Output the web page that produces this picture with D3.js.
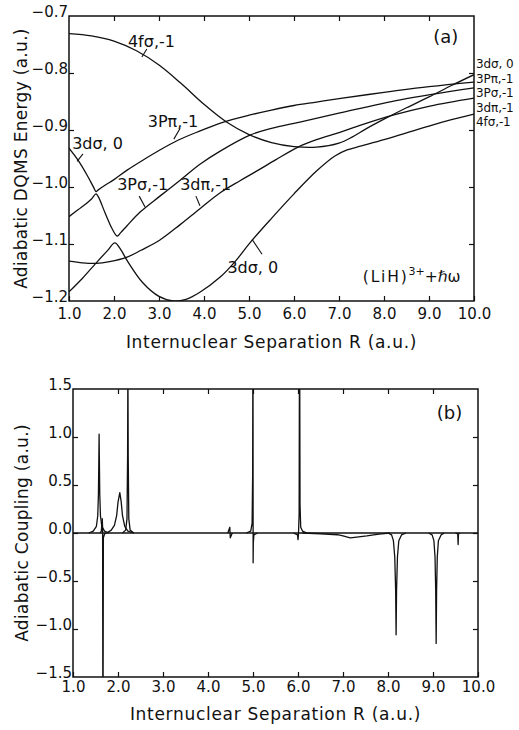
<!DOCTYPE html>
<html><head><meta charset="utf-8">
<script src="https://cdn.jsdelivr.net/npm/d3@7"></script>
<style>
body{margin:0;background:#fff}
svg{display:block}
text{font-family:"DejaVu Sans",sans-serif;fill:#111}
</style>
</head><body><svg id="c" width="519" height="730"></svg>
<script>
// ---------- data ----------
const rTicks = [1,2,3,4,5,6,7,8,9,10];
const eTicks = [-0.7,-0.8,-0.9,-1.0,-1.1,-1.2];
const cTicks = [1.5,1.0,0.5,0.0,-0.5,-1.0,-1.5];

// Panel (a): adiabatic DQMS energies [R, E]
const curveC1 = [[1.0,-0.731],[1.5,-0.735],[2.0,-0.744],[2.5,-0.761],[3.0,-0.786],[3.5,-0.819],[4.0,-0.855],[4.5,-0.886],[5.0,-0.908],[5.5,-0.922],[6.0,-0.929],[6.5,-0.930],[7.0,-0.923],[7.3,-0.912],[7.6,-0.898],[8.0,-0.881],[8.5,-0.861],[9.0,-0.842],[9.5,-0.822],[10.0,-0.803]];
const curveL1 = [[1.0,-1.184],[1.3,-1.160],[1.64,-1.130],[1.85,-1.112],[2.02,-1.098],[2.15,-1.110],[2.3,-1.130],[2.64,-1.168],[3.0,-1.192],[3.31,-1.200],[3.6,-1.197],[3.9,-1.185],[4.36,-1.158],[4.7,-1.130],[5.02,-1.098],[5.5,-1.055],[6.0,-1.012],[6.5,-0.972],[6.9,-0.946],[7.18,-0.935],[7.5,-0.928],[8.0,-0.917],[8.5,-0.905],[9.0,-0.893],[9.5,-0.882],[10.0,-0.872]];
const curveA2 = [[1.0,-0.932],[1.2,-0.953],[1.4,-0.979],[1.55,-1.001],[1.6,-1.008],[1.65,-1.005],[1.8,-0.997],[2.0,-0.987],[2.3,-0.970],[2.64,-0.953],[3.0,-0.936],[3.42,-0.918],[3.9,-0.902],[4.4,-0.887],[5.0,-0.874],[5.5,-0.865],[6.0,-0.857],[6.5,-0.851],[7.0,-0.845],[8.0,-0.834],[9.0,-0.824],[10.0,-0.816]];
const curveA3 = [[1.0,-1.052],[1.2,-1.040],[1.4,-1.028],[1.5,-1.021],[1.6,-1.012],[1.65,-1.017],[1.8,-1.045],[1.95,-1.072],[2.07,-1.086],[2.15,-1.080],[2.29,-1.068],[2.58,-1.044],[3.02,-1.016],[3.47,-0.988],[3.91,-0.960],[4.36,-0.937],[5.02,-0.909],[5.5,-0.897],[6.13,-0.886],[7.02,-0.870],[8.36,-0.847],[10.0,-0.826]];
const curveA4 = [[1.0,-1.130],[1.3,-1.133],[1.6,-1.134],[1.9,-1.131],[2.29,-1.123],[2.6,-1.111],[3.02,-1.093],[3.47,-1.066],[3.91,-1.038],[4.36,-1.010],[4.8,-0.989],[5.13,-0.974],[5.6,-0.952],[6.09,-0.930],[6.5,-0.917],[7.02,-0.904],[7.5,-0.891],[8.2,-0.874],[9.02,-0.858],[10.0,-0.844]];
const rightLabels = ["3dσ, 0","3Pπ,-1","3Pσ,-1","3dπ,-1","4fσ,-1"];

// Panel (b): adiabatic couplings [R, value]
const zeroLine = [[1.0,0],[10.0,0]];
const cp1 = [[1.35,0],[1.45,0.02],[1.52,0.07],[1.55,0.18],[1.565,0.4],[1.575,0.8],[1.58,1.03],[1.585,0.8],[1.595,0.4],[1.61,0.18],[1.64,0.07],[1.70,0.02],[1.8,0]];
const cp2 = [[1.60,0],[1.63,0.02],[1.65,0.15],[1.658,0.05],[1.663,-1.8],[1.668,-1.8],[1.675,-0.05],[1.70,-0.01],[1.75,0]];
const cp3 = [[1.75,0],[1.85,0.03],[1.92,0.08],[1.97,0.18],[2.00,0.32],[2.04,0.42],[2.07,0.33],[2.10,0.18],[2.15,0.07],[2.22,0.02],[2.35,0]];
const cp4 = [[2.10,0],[2.17,0.03],[2.20,0.15],[2.213,0.8],[2.22,1.8],[2.227,0.8],[2.24,0.15],[2.27,0.03],[2.35,0]];
const cp5 = [[4.44,0],[4.485,0.06],[4.49,0],[4.495,-0.05],[4.54,0]];
const cp6 = [[4.85,0],[4.95,0.02],[4.98,0.1],[4.992,0.6],[4.997,1.8],[5.000,1.8],[5.003,-0.31],[5.007,-0.1],[5.02,-0.02],[5.1,0]];
const cp7 = [[5.9,0],[5.99,-0.02],[6.0,-0.07],[6.01,-0.02],[6.025,0.2],[6.032,1.8],[6.038,1.8],[6.045,0.3],[6.06,0.06],[6.1,0.02],[6.2,0]];
const cp8 = [[6.1,0],[6.5,-0.008],[6.88,-0.018],[7.0,-0.03],[7.16,-0.05],[7.35,-0.04],[7.53,-0.03],[7.8,-0.012],[8.04,0]];
const cp9 = [[8.0,0],[8.08,-0.02],[8.12,-0.08],[8.15,-0.25],[8.17,-0.6],[8.18,-1.06],[8.19,-0.6],[8.21,-0.25],[8.24,-0.08],[8.30,-0.02],[8.4,0]];
const cp10 = [[8.9,0],[8.98,-0.02],[9.02,-0.08],[9.045,-0.25],[9.06,-0.6],[9.07,-1.15],[9.08,-0.6],[9.095,-0.25],[9.12,-0.08],[9.18,-0.02],[9.25,0]];
const cp11 = [[9.5,0],[9.55,-0.01],[9.558,-0.12],[9.566,-0.01],[9.6,0]];

// ---------- layout ----------
const svg = d3.select("#c");
const A = {l:69, r:474, t:16, b:301};
const B = {l:73, r:478, t:389, b:677};
const fmt = d3.format(".1f");

const xA = d3.scaleLinear([1,10],[A.l,A.r]);
const yA = d3.scaleLinear([-1.2,-0.7],[A.b,A.t]);
const xB = d3.scaleLinear([1,10],[B.l,B.r]);
const yB = d3.scaleLinear([-1.5,1.5],[B.b,B.t]);

function styleAxis(g, size){
  g.attr("font-family",null).attr("font-size",null);
  g.select(".domain").remove();
  g.selectAll(".tick line").attr("stroke","#111").attr("stroke-width",1.2);
  g.selectAll(".tick text").style("font-size",size+"px").attr("fill","#111");
}

function frame(P, x, y, yTicks, innerY, padX){
  const bottom = svg.append("g").attr("transform",`translate(0,${P.b})`)
    .call(d3.axisBottom(x).tickValues(rTicks).tickFormat(fmt).tickSizeInner(-5).tickSizeOuter(0).tickPadding(padX));
  styleAxis(bottom,15);
  const top = svg.append("g").attr("transform",`translate(0,${P.t})`)
    .call(d3.axisTop(x).tickValues(rTicks.slice(1,-1)).tickFormat("").tickSizeInner(-5).tickSizeOuter(0));
  styleAxis(top,15);
  const left = svg.append("g").attr("transform",`translate(${P.l},0)`)
    .call(d3.axisLeft(y).tickValues(yTicks).tickFormat(fmt).tickSizeInner(-5).tickSizeOuter(0).tickPadding(1));
  styleAxis(left,15);
  left.selectAll(".tick text").attr("dy","0.02em");
  left.selectAll(".tick line").filter(d=>!innerY.includes(d)).remove();
  const right = svg.append("g").attr("transform",`translate(${P.r},0)`)
    .call(d3.axisRight(y).tickValues(innerY).tickFormat("").tickSizeInner(-5).tickSizeOuter(0));
  styleAxis(right,15);
  svg.append("rect").attr("x",P.l).attr("y",P.t).attr("width",P.r-P.l).attr("height",P.b-P.t)
    .attr("fill","none").attr("stroke","#111").attr("stroke-width",1.5);
}

frame(A, xA, yA, eTicks, [-0.8,-0.9,-1.0,-1.1], 7);
frame(B, xB, yB, cTicks, [1.0,0.5,0.0,-0.5,-1.0], 4);

// ---------- panel (a) curves ----------
const lineA = d3.line().x(d=>xA(d[0])).y(d=>yA(d[1])).curve(d3.curveCatmullRom.alpha(0.5));
svg.append("defs").append("clipPath").attr("id","clipA").append("rect")
  .attr("x",A.l).attr("y",A.t).attr("width",A.r-A.l).attr("height",A.b-A.t);
const gA = svg.append("g").attr("clip-path","url(#clipA)");
[curveC1,curveL1,curveA2,curveA3,curveA4].forEach(c=>{
  gA.append("path").attr("d",lineA(c)).attr("fill","none").attr("stroke","#111").attr("stroke-width",1.3);
});

// curve labels with leaders (positions in data coordinates)
function lab(txt, r, e, size, anchor){
  return svg.append("text").attr("x",xA(r)).attr("y",yA(e)).attr("text-anchor",anchor||"start")
    .style("font-size",size+"px").text(txt);
}
function leader(r1,e1,r2,e2){
  svg.append("line").attr("x1",xA(r1)).attr("y1",yA(e1)).attr("x2",xA(r2)).attr("y2",yA(e2))
    .attr("stroke","#111").attr("stroke-width",1.1);
}
lab("4fσ,-1", 2.31, -0.754, 16); leader(2.73,-0.758,2.62,-0.772);
lab("3Pπ,-1", 2.75, -0.894, 16); leader(3.47,-0.897,3.33,-0.916);
lab("3dσ, 0", 1.07, -0.934, 16); leader(1.31,-0.942,1.18,-0.955);
lab("3Pσ,-1", 2.07, -1.005, 16); leader(2.56,-1.016,2.69,-1.035);
lab("3dπ,-1", 3.47, -1.005, 16); leader(3.82,-1.016,3.91,-1.033);
lab("3dσ, 0", 4.52, -1.150, 16); leader(5.07,-1.092,5.29,-1.118);
lab("(a)", 9.65, -0.748, 18, "end");

// right-hand labels (vertical centres in data units)
const rightE = [-0.784,-0.810,-0.835,-0.861,-0.886];
rightLabels.forEach((t,i)=>{
  svg.append("text").attr("x",A.r+2).attr("y",yA(rightE[i])+4.4).style("font-size","12px")
    .attr("letter-spacing","-0.1px").text(t);
});

// (LiH)^3+ + ħω
const sys = svg.append("text").attr("x",xA(9.7)).attr("y",yA(-1.166)).attr("text-anchor","end").style("font-size","15.5px");
sys.append("tspan").attr("letter-spacing","1.8px").text("(LiH)");
sys.append("tspan").attr("dy",-7).style("font-size","11px").text("3+");
sys.append("tspan").attr("dy",7).text("+ℏω");

// ---------- panel (b) curves ----------
svg.select("defs").append("clipPath").attr("id","clipB").append("rect")
  .attr("x",B.l).attr("y",B.t).attr("width",B.r-B.l).attr("height",B.b-B.t);
const lineB = d3.line().x(d=>xB(d[0])).y(d=>yB(d[1]));
const gB = svg.append("g").attr("clip-path","url(#clipB)");
[zeroLine,cp1,cp2,cp3,cp4,cp5,cp6,cp7,cp8,cp9,cp10,cp11].forEach(c=>{
  gB.append("path").attr("d",lineB(c)).attr("fill","none").attr("stroke","#111").attr("stroke-width",1.3).attr("stroke-linejoin","round");
});
svg.append("text").attr("x",xB(9.65)).attr("y",yB(1.185)).attr("text-anchor","end").style("font-size","18px").text("(b)");

// ---------- axis titles ----------
svg.append("text").attr("x",(A.l+A.r)/2).attr("y",348).attr("text-anchor","middle").style("font-size","17px")
  .attr("letter-spacing","0.7px").text("Internuclear Separation R (a.u.)");
svg.append("text").attr("x",(B.l+B.r)/2).attr("y",720).attr("text-anchor","middle").style("font-size","17px")
  .attr("letter-spacing","0.7px").text("Internuclear Separation R (a.u.)");
svg.append("text").attr("transform",`translate(27,${(A.t+A.b)/2}) rotate(-90)`).attr("text-anchor","middle")
  .style("font-size","17px").attr("letter-spacing","0.3px").text("Adiabatic DQMS Energy (a.u.)");
svg.append("text").attr("transform",`translate(28,${(B.t+B.b)/2}) rotate(-90)`).attr("text-anchor","middle")
  .style("font-size","17px").attr("letter-spacing","0.3px").text("Adiabatic Coupling (a.u.)");
</script>
</body></html>
